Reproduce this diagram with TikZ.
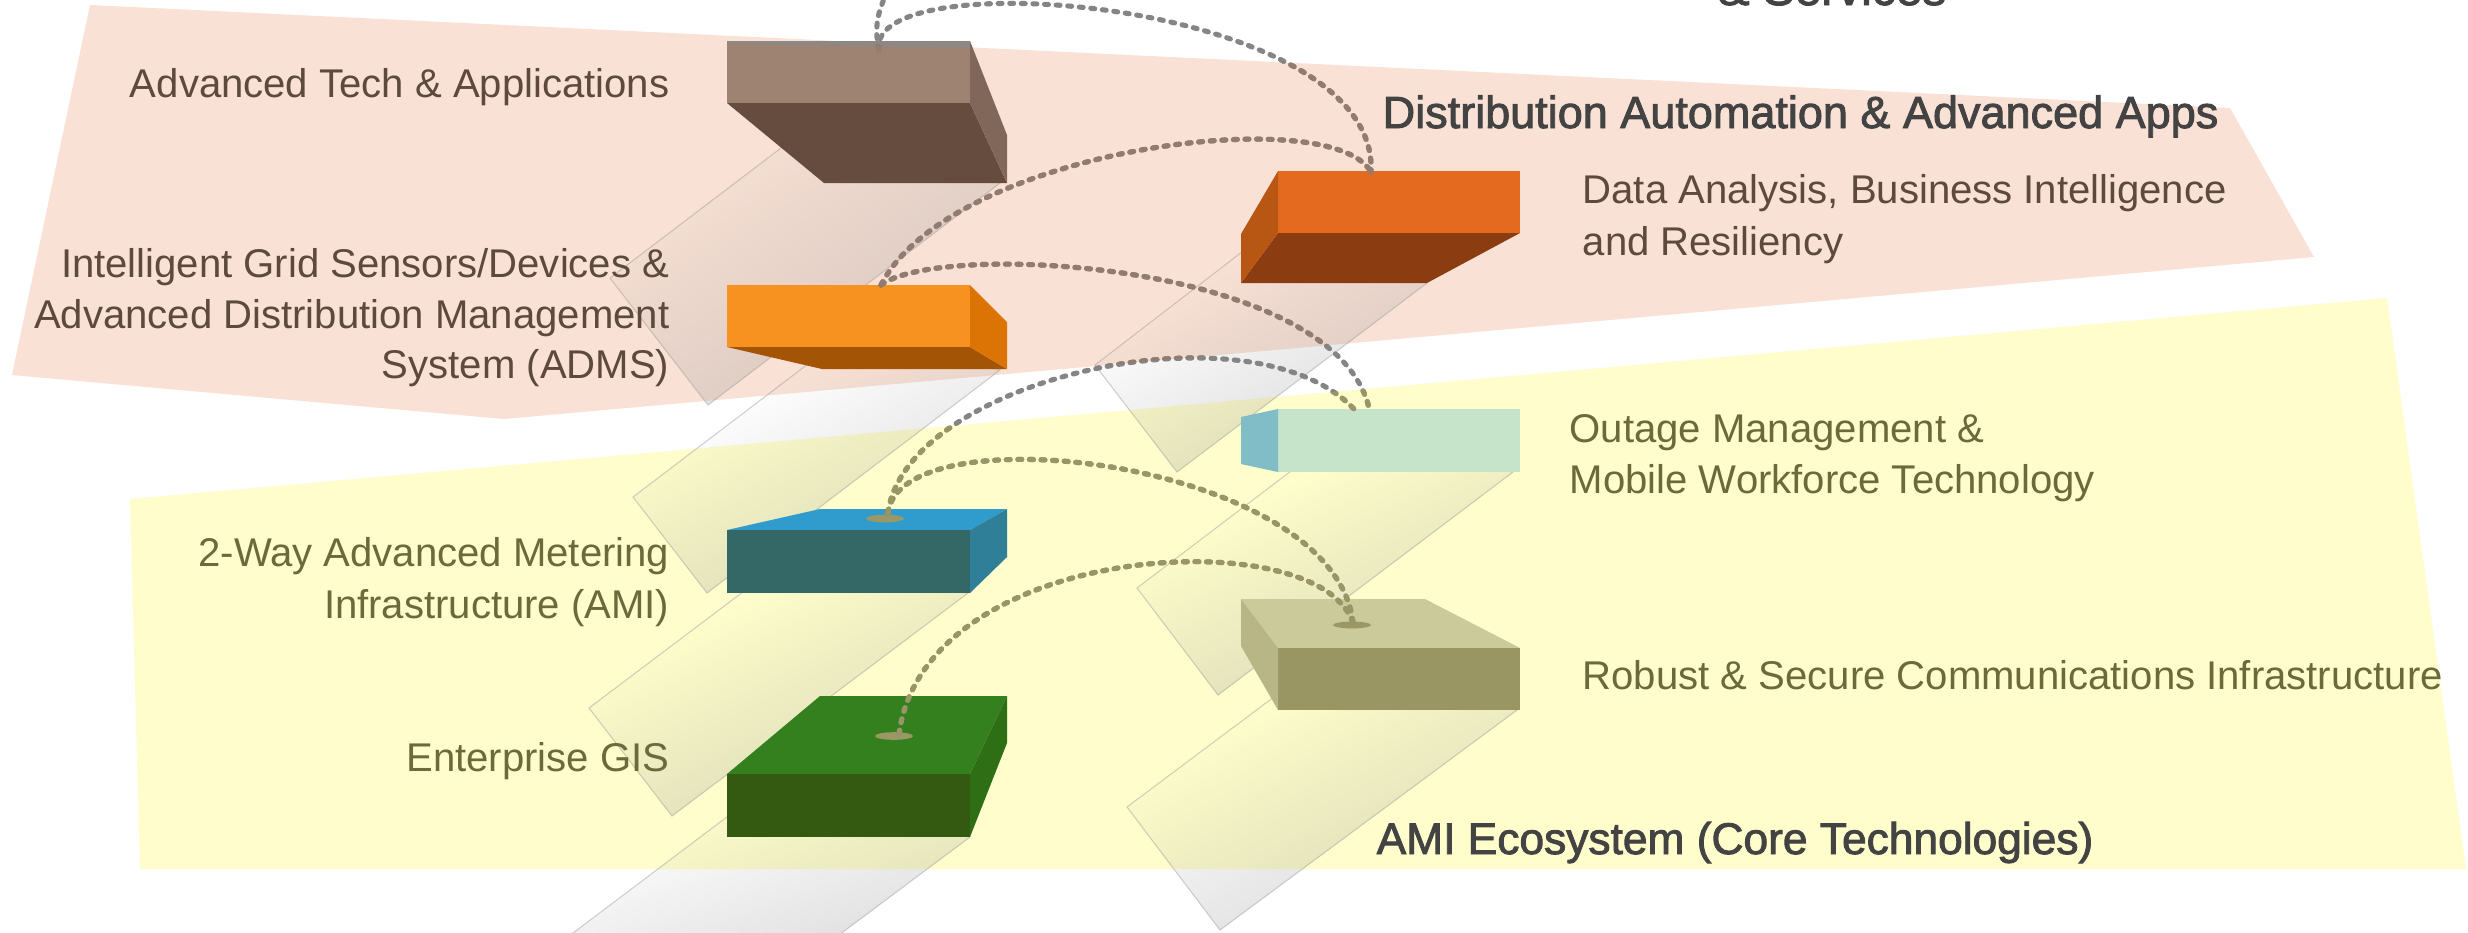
\documentclass[tikz,border=0pt]{standalone}
\usepackage{fontspec}
\usetikzlibrary{fadings}
\setmainfont{Liberation Sans}
\newfontfamily\headfont[FakeBold=2]{Liberation Sans}
\definecolor{peach}{HTML}{F9E1D5}
\definecolor{lemon}{HTML}{FEFDCB}
\definecolor{lblbrown}{HTML}{5E4A3D}
\definecolor{lblolive}{HTML}{6C6A3B}
\definecolor{headgray}{HTML}{434343}
\definecolor{conngray}{HTML}{858585}
\definecolor{connbrown}{HTML}{937C6F}
\definecolor{connolive}{HTML}{999664}
\definecolor{portolive}{HTML}{9B9866}
\definecolor{atFront}{HTML}{9E8373}
\definecolor{atStrip}{HTML}{8E8884}
\definecolor{atBottom}{HTML}{654C3F}
\definecolor{atSide}{HTML}{806759}
\definecolor{adFront}{HTML}{F7911F}
\definecolor{adBottom}{HTML}{A35404}
\definecolor{adSide}{HTML}{DC7305}
\definecolor{daFront}{HTML}{E46A20}
\definecolor{daBottom}{HTML}{8B3D11}
\definecolor{daSide}{HTML}{B85614}
\definecolor{omFront}{HTML}{C6E4CA}
\definecolor{omSide}{HTML}{80BDC7}
\definecolor{amTop}{HTML}{309CCD}
\definecolor{amFront}{HTML}{336866}
\definecolor{amSide}{HTML}{307F98}
\definecolor{rsTop}{HTML}{CACA9A}
\definecolor{rsFront}{HTML}{999664}
\definecolor{rsSide}{HTML}{B8B686}
\definecolor{gsTop}{HTML}{35801E}
\definecolor{gsFront}{HTML}{345A11}
\definecolor{gsSide}{HTML}{2E6E15}
\pgfdeclarehorizontalshading{bandfadesh}{100bp}{color(0bp)=(black); color(33bp)=(black); color(67bp)=(white); color(100bp)=(white)}
\pgfdeclarefading{bandfade}{\pgfuseshading{bandfadesh}}
\newcommand\peachshape{(90,5) -- (2230,108) -- (2314,257) -- (504,419) -- (12,375) -- cycle}
\newcommand\lemonshape{(130,499) -- (2387,298) -- (2466,869) -- (140,869) -- cycle}
\newcommand\drawconns[1]{%
  \draw[conn,#1] (advtech-port) .. controls (865,-40) and (1380,0) .. (dataan-port);
  \draw[conn,#1] (advtech-port) .. controls (872,20) and (882,0) .. (services-end);
  \draw[conn,#1] (adms-port) .. controls (950,150) and (1330,100) .. (dataan-port);
  \draw[conn,#1] (adms-port) .. controls (940,240) and (1335,262) .. (outage-port1);
  \draw[conn,#1] (ami-port) .. controls (905,380) and (1250,300) .. (outage-port2);
  \draw[conn,#1] (ami-port) .. controls (900,410) and (1335,460) .. (robust-port);
  \draw[conn,#1] (gis-port) .. controls (925,540) and (1320,520) .. (robust-port);
}
\newcommand\shadowpoly[4]{%
  \fill[black!45, fill opacity=0.26, path fading=bandfade, fading angle=-53] #1 -- #2 -- #3 -- #4 -- cycle;
  \draw[shadowedge] #1 -- #2 -- #3 -- #4 -- cycle;
}
\begin{document}
\begin{tikzpicture}[x=0.01cm,y=-0.01cm,
  conn/.style={line width=1.45pt, dash pattern=on 1.1pt off 2.2pt, line cap=round},
  shadowedge/.style={draw=black!40, line width=0.3pt, draw opacity=0.45},
  lbl/.style={inner sep=0pt, font=\fontsize{11.4}{13}\selectfont},
  lblup/.style={lbl, text=lblbrown},
  lbldown/.style={lbl, text=lblolive},
  heading/.style={inner sep=0pt, text=headgray, font=\headfont\fontsize{12.8}{15}\selectfont},
  port/.style={fill=portolive}]
\useasboundingbox (0,0) rectangle (2468,932);
\clip (0,0) rectangle (2468,932);
\fill[white] (0,0) rectangle (2468,932);
% bands
\fill[peach] \peachshape;
\fill[lemon] \lemonshape;
% shadows
\shadowpoly{(902,56)}{(1000,183)}{(708,405)}{(610,278)}
\shadowpoly{(850,332)}{(1000,370)}{(707,593)}{(633,497)}
\shadowpoly{(780,564)}{(968,593)}{(672,816)}{(589,708)}
\shadowpoly{(780,777)}{(970,837)}{(752,1000)}{(484,1000)}
\shadowpoly{(1290,215)}{(1427,283)}{(1177,472)}{(1095,365)}
\shadowpoly{(1320,449)}{(1513,472)}{(1218,695)}{(1137,588)}
\shadowpoly{(1330,655)}{(1517,710)}{(1220,930)}{(1127,807)}
% box: Advanced Tech
\fill[atFront] (727,41) rectangle (970,103);
\fill[atStrip] (727,41) -- (970,41) -- (970,48) -- (727,44) -- cycle;
\fill[atBottom] (727,103) -- (970,103) -- (1007,183) -- (824,183) -- cycle;
\fill[atSide] (970,41) -- (1007,135) -- (1007,183) -- (970,103) -- cycle;
% box: ADMS
\fill[adFront] (727,285) rectangle (970,347);
\fill[adBottom] (727,347) -- (970,347) -- (1007,369) -- (822,369) -- cycle;
\fill[adSide] (970,285) -- (1007,322) -- (1007,369) -- (970,347) -- cycle;
% box: Data Analysis
\fill[daFront] (1278,171) rectangle (1520,233);
\fill[daBottom] (1278,233) -- (1520,233) -- (1427,283) -- (1241,283) -- cycle;
\fill[daSide] (1278,171) -- (1241,234) -- (1241,283) -- (1278,233) -- cycle;
% box: Outage
\fill[omFront] (1278,409) rectangle (1520,472);
\fill[omSide] (1241,417) -- (1278,409) -- (1278,472) -- (1241,464) -- cycle;
% box: AMI
\fill[amTop] (727,530) -- (820,509) -- (1007,509) -- (970,530) -- cycle;
\fill[amFront] (727,530) rectangle (970,593);
\fill[amSide] (970,530) -- (1007,509) -- (1007,557) -- (970,593) -- cycle;
% box: Robust & Secure
\fill[rsTop] (1241,599) -- (1425,599) -- (1520,648) -- (1278,648) -- cycle;
\fill[rsFront] (1278,648) rectangle (1520,710);
\fill[rsSide] (1241,599) -- (1278,648) -- (1278,710) -- (1241,646) -- cycle;
% box: GIS
\fill[gsTop] (727,774) -- (820,696) -- (1007,696) -- (970,774) -- cycle;
\fill[gsFront] (727,774) rectangle (970,837);
\fill[gsSide] (970,774) -- (1007,696) -- (1007,743) -- (970,837) -- cycle;
% ports
\fill[port] (885,518.5) ellipse [x radius=0.19cm, y radius=0.038cm];
\fill[port] (894,736) ellipse [x radius=0.19cm, y radius=0.038cm];
\fill[port] (1352,625) ellipse [x radius=0.19cm, y radius=0.034cm];
\coordinate (advtech-port) at (879,50);
\coordinate (services-end) at (897,-25);
\coordinate (adms-port) at (881,285);
\coordinate (dataan-port) at (1371,172);
\coordinate (outage-port1) at (1369,408);
\coordinate (outage-port2) at (1354,409);
\coordinate (ami-port) at (888,513);
\coordinate (robust-port) at (1353,623);
\coordinate (gis-port) at (899,734);
% connectors, coloured by the band they cross
\drawconns{conngray}
\begin{scope}
\clip \peachshape;
\drawconns{connbrown}
\end{scope}
\begin{scope}
\clip \lemonshape;
\drawconns{connolive}
\end{scope}
% texts
\node[heading, anchor=base west, font=\headfont\fontsize{13.6}{15}\selectfont] (t-services) at (1717,5) {\& Services};
\node[heading, anchor=base west] (t-da) at (1382,128) {Distribution Automation \& Advanced Apps};
\node[heading, anchor=base west, font=\headfont\fontsize{12.6}{15}\selectfont] (t-amieco) at (1376,854) {AMI Ecosystem (Core Technologies)};
\node[lblup, anchor=base east] (t-advtech) at (670,97) {Advanced Tech \& Applications};
\node[lblup, anchor=base east] (t-adms1) at (670,277) {Intelligent Grid Sensors/Devices \&};
\node[lblup, anchor=base east] (t-adms2) at (670,328) {Advanced Distribution Management};
\node[lblup, anchor=base east] (t-adms3) at (670,378) {System (ADMS)};
\node[lbldown, anchor=base east] (t-ami1) at (670,566) {2-Way Advanced Metering};
\node[lbldown, anchor=base east] (t-ami2) at (670,618) {Infrastructure (AMI)};
\node[lbldown, anchor=base east] (t-gis) at (670,771) {Enterprise GIS};
\node[lblup, anchor=base west] (t-data1) at (1582,203) {Data Analysis, Business Intelligence};
\node[lblup, anchor=base west] (t-data2) at (1582,255) {and Resiliency};
\node[lbldown, anchor=base west] (t-out1) at (1569,442) {Outage Management \&};
\node[lbldown, anchor=base west] (t-out2) at (1569,493) {Mobile Workforce Technology};
\node[lbldown, anchor=base west] (t-robust) at (1582,689) {Robust \& Secure Communications Infrastructure};
\end{tikzpicture}
\end{document}
